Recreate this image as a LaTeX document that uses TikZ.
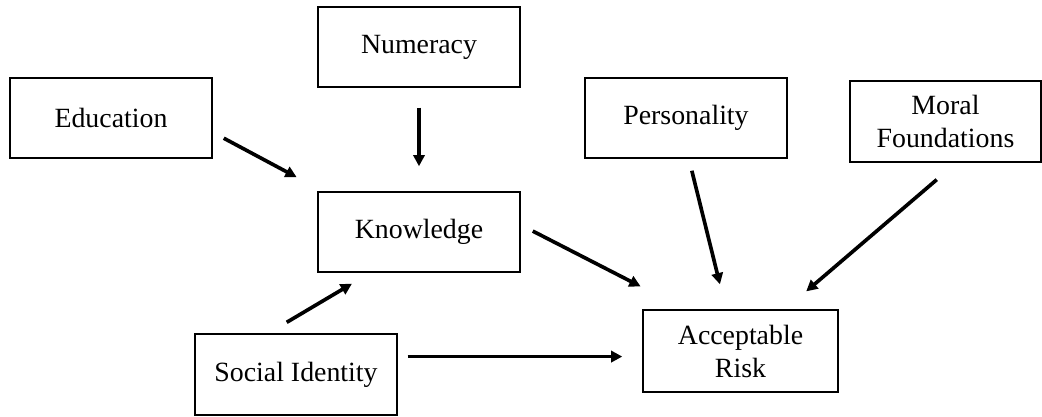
\documentclass[tikz,border=0pt]{standalone}
\usepackage{fontspec}
\setmainfont{Liberation Serif}
\usetikzlibrary{arrows.meta}

\tikzset{
    factor/.style={draw, line width=1pt, minimum width=5.05cm, minimum height=2cm,
        inner sep=0pt, align=center, font=\fontsize{19.8}{23.5}\selectfont},
    link/.style={line width=2.6pt, -{Triangle[length=8pt,width=8pt]}}
}

\begin{document}
\begin{tikzpicture}[x=0.025cm, y=-0.025cm]
    \useasboundingbox (0,0) rectangle (1042,416);

    \node[factor] (education) at (111,118) {Education};
    \node[factor] (numeracy) at (419,47) {Numeracy};
    \node[factor] (personality) at (686,118) {Personality};
    \node[factor, minimum width=4.775cm, minimum height=2.025cm] (moral) at (945.5,121.5) {Moral\\Foundations};
    \node[factor] (knowledge) at (419,232) {Knowledge};
    \node[factor, minimum height=2.025cm] (identity) at (296,374.5) {Social Identity};
    \node[factor, minimum width=4.875cm, minimum height=2.05cm] (risk) at (740.5,351) {Acceptable\\Risk};

    % paths into knowledge
    \draw[link, shorten <=8.9pt, shorten >=21.3pt] (education.-8) -- (knowledge.157);
    \draw[link, shorten <=14.2pt, shorten >=17.8pt] (numeracy.south) -- (knowledge.north);
    \draw[link, shorten <=15.3pt, shorten >=15.3pt] (identity.124) -- (knowledge.220);

    % paths into acceptable risk
    \draw[link, shorten <=9.6pt, shorten >=35.6pt] (knowledge.4.5) -- (risk.143);
    \draw[link, shorten <=8.8pt, shorten >=18.3pt] (personality.-86) -- (risk.109);
    \draw[link, shorten <=18.5pt, shorten >=19.6pt] (moral.-75) -- (risk.43);
    \draw[link, shorten <=7.1pt, shorten >=14.2pt] (identity.10) -- (identity.10 -| risk.west);
\end{tikzpicture}
\end{document}
